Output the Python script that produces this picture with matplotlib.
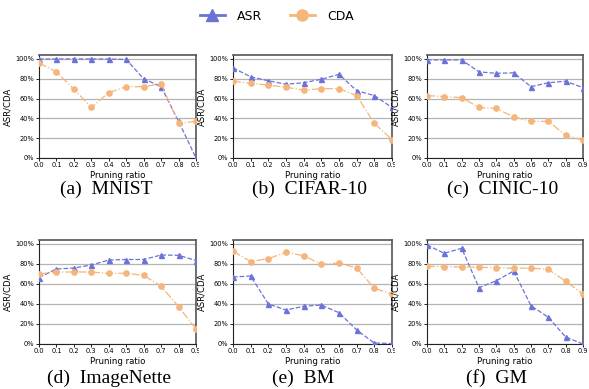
import matplotlib
matplotlib.use("Agg")
import matplotlib.pyplot as plt
from matplotlib.lines import Line2D
from matplotlib.ticker import FuncFormatter
from matplotlib.transforms import Bbox

# --- data ---
ratios = [0.0, 0.1, 0.2, 0.3, 0.4, 0.5, 0.6, 0.7, 0.8, 0.9]
ratio_labels = ["0.0", "0.1", "0.2", "0.3", "0.4", "0.5", "0.6", "0.7", "0.8", "0.9"]
captions = ["(a)  MNIST", "(b)  CIFAR-10", "(c)  CINIC-10",
            "(d)  ImageNette", "(e)  BM", "(f)  GM"]

asr_mnist = [100, 100, 100, 100, 100, 99.5, 80, 72, 37, 0]
cda_mnist = [96, 87, 69.5, 51, 66, 72, 72, 75, 35, 37]
asr_cifar = [91, 82, 78, 74.5, 76, 79.5, 84.5, 68, 63, 51]
cda_cifar = [77.5, 75.5, 73.5, 71.5, 68.5, 70, 70, 63, 35, 18.5]
asr_cinic = [99, 99, 99, 87, 85.5, 86, 72, 76, 77.5, 71]
cda_cinic = [63, 62, 61, 51, 50, 41.5, 37, 37, 23, 18]
asr_imgnette = [66.5, 75, 76, 79, 84, 84.5, 84.5, 89, 88.7, 83.5]
cda_imgnette = [70, 72, 72, 72, 70.7, 70.7, 68.7, 57.7, 37.3, 15]
asr_bm = [67, 68, 40, 34, 37.7, 39, 31.3, 14, 1, 0.5]
cda_bm = [92.7, 82.5, 85.3, 91.7, 88.3, 79.7, 81, 76, 55.7, 50]
asr_gm = [99, 90.7, 95.7, 56.3, 63.3, 73, 38.3, 26.7, 7, 0]
cda_gm = [77.7, 77.3, 77, 76.7, 76.3, 75.7, 76, 74.7, 62.7, 50]

asr_all = [asr_mnist, asr_cifar, asr_cinic, asr_imgnette, asr_bm, asr_gm]
cda_all = [cda_mnist, cda_cifar, cda_cinic, cda_imgnette, cda_bm, cda_gm]

ASR_COLOR = "#6b73d8"
CDA_COLOR = "#f5b57b"

W, H = 589, 389
fig = plt.figure(figsize=(W / 100, H / 100), dpi=100)

# axes boxes in pixels: (left, right), (top, bottom)
cols = [(39, 196), (233, 392), (427, 583)]
rows = [(55, 158), (240, 344)]
cap_x = [106, 310, 503, 109, 303, 497]
cap_y = [189, 378]

for i in range(6):
    r, c = divmod(i, 3)
    (x0, x1), (y0, y1) = cols[c], rows[r]
    ax = fig.add_axes([x0 / W, 1 - y1 / H, (x1 - x0) / W, (y1 - y0) / H])

    ax.plot(ratios, asr_all[i], ls="--", lw=0.9, color=ASR_COLOR,
            marker="^", ms=3.6, zorder=3)
    ax.plot(ratios, cda_all[i], ls="-.", lw=0.9, color=CDA_COLOR,
            marker="o", ms=3.8, zorder=3)

    ax.set_xlim(0, 0.9)
    ax.set_ylim(0, 104)
    ax.set_xticks(ratios)
    ax.set_xticklabels(ratio_labels)
    ax.set_yticks([0, 20, 40, 60, 80, 100])
    ax.yaxis.set_major_formatter(FuncFormatter(lambda v, p: f"{v:.0f}%"))
    ax.tick_params(labelsize=4.8, length=2, width=0.6, pad=1.2)
    ax.grid(axis="y", color="#b4b4b4", lw=0.9)
    ax.set_axisbelow(True)
    ax.set_ylabel("ASR/CDA", fontsize=6.1, labelpad=2)
    ax.set_xlabel("Pruning ratio", fontsize=6.2, labelpad=1.5)
    for s in ["top", "right"]:
        ax.spines[s].set_color("#555555")
        ax.spines[s].set_linewidth(1.2)
    for s in ["left", "bottom"]:
        ax.spines[s].set_color("#222222")
        ax.spines[s].set_linewidth(0.8)

    # the first two columns are cropped just right of the axes, as in the paper
    if c < 2:
        clip = Bbox.from_extents(0, 0, x1 + 3, H)
        for lab in ax.get_xticklabels():
            lab.set_clip_box(clip)
            lab.set_clip_on(True)

    fig.text((cap_x[i]) / W, 1 - cap_y[r] / H, captions[i], ha="center",
             va="center", fontsize=14, family="Liberation Serif")

handles = [
    Line2D([], [], ls="-", lw=2, color=ASR_COLOR, marker="^", ms=8),
    Line2D([], [], ls="-", lw=2, color=CDA_COLOR, marker="o", ms=8),
]
fig.legend(handles, ["ASR", "CDA"], loc="center", bbox_to_anchor=(0.47, 1 - 16 / H),
           ncol=2, frameon=False, fontsize=9, handlelength=2.0, columnspacing=2.2,
           handletextpad=1.0)

fig.savefig("out.png", dpi=100)
